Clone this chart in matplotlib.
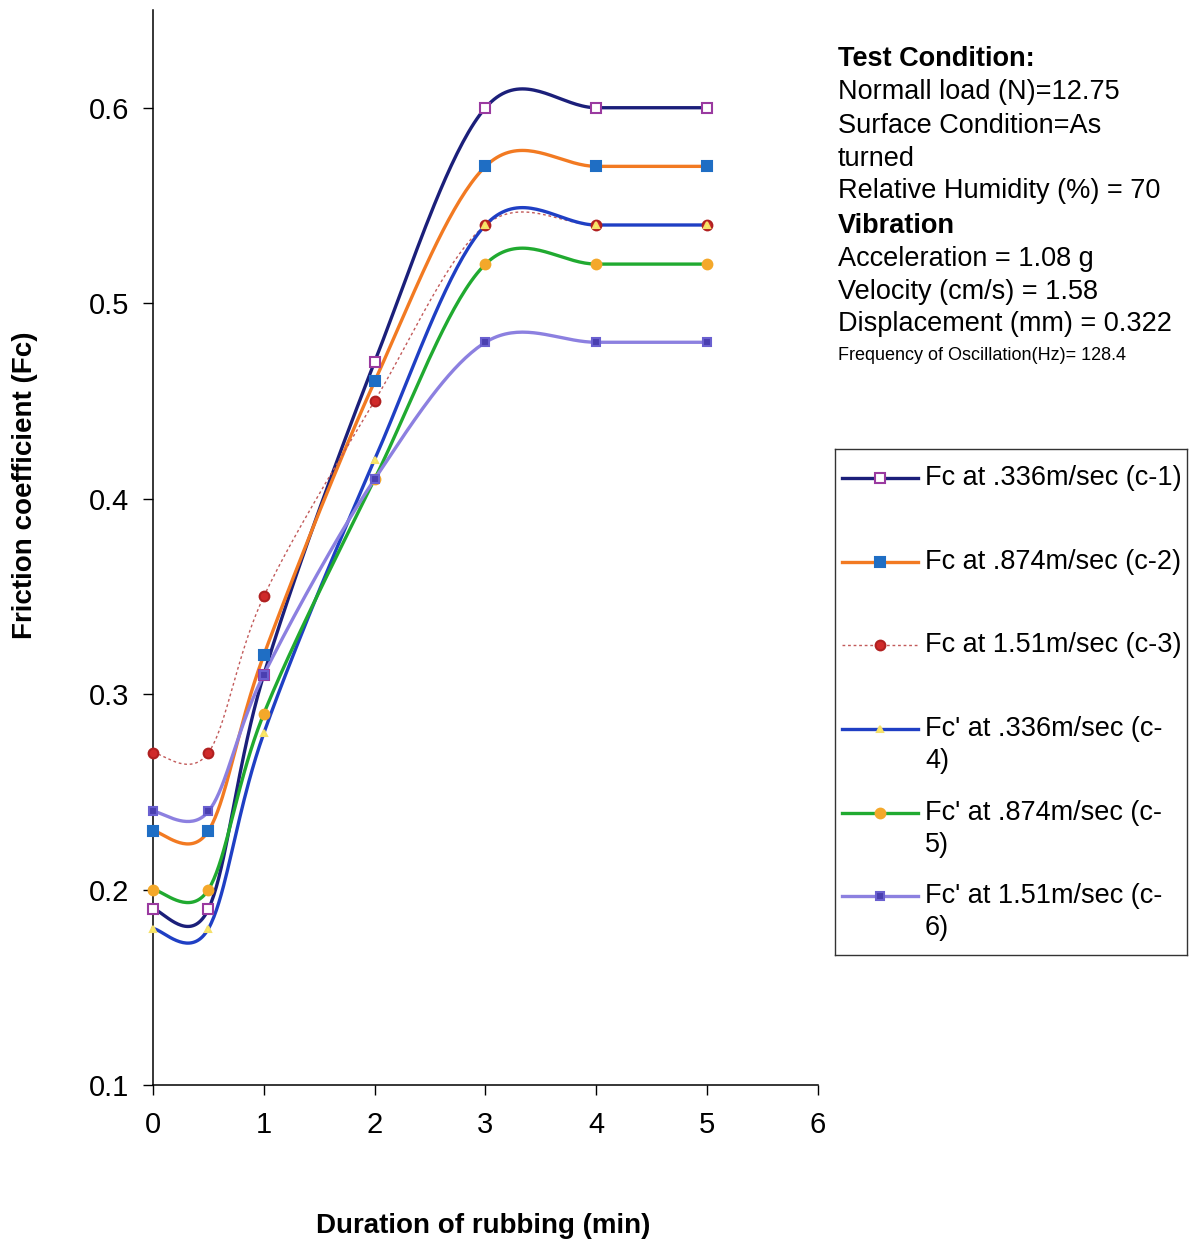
import numpy as np
import matplotlib
matplotlib.use('Agg')
import matplotlib.pyplot as plt

plt.rcParams['font.family'] = ['Liberation Sans', 'DejaVu Sans']

W, H = 1192, 1244

# duration of rubbing (min)
duration = [0, 0.5, 1, 2, 3, 4, 5]

fc_c1 = [0.19, 0.19, 0.31, 0.47, 0.60, 0.60, 0.60]
fc_c2 = [0.23, 0.23, 0.32, 0.46, 0.57, 0.57, 0.57]
fc_c3 = [0.27, 0.27, 0.35, 0.45, 0.54, 0.54, 0.54]
fc_c4 = [0.18, 0.18, 0.28, 0.42, 0.54, 0.54, 0.54]
fc_c5 = [0.20, 0.20, 0.29, 0.41, 0.52, 0.52, 0.52]
fc_c6 = [0.24, 0.24, 0.31, 0.41, 0.48, 0.48, 0.48]

labels = ["Fc at .336m/sec (c-1)",
          "Fc at .874m/sec (c-2)",
          "Fc at 1.51m/sec (c-3)",
          "Fc' at .336m/sec (c-\n4)",
          "Fc' at .874m/sec (c-\n5)",
          "Fc' at 1.51m/sec (c-\n6)"]

conditions = ["Test Condition:",
              "Normall load (N)=12.75",
              "Surface Condition=As",
              "turned",
              "Relative Humidity (%) = 70",
              "Vibration",
              "Acceleration = 1.08 g",
              "Velocity (cm/s) = 1.58",
              "Displacement (mm) = 0.322",
              "Frequency of Oscillation(Hz)= 128.4"]

# line style per series: (line colour, lw, ls, marker, marker face, marker edge, ms)
STYLES = [
    ('#1b1f7a', 2.4, '-', 's', 'white', '#9a3aa0', 6.5),
    ('#f27a22', 2.4, '-', 's', '#1f6ec4', '#1f6ec4', 7),
    ('#c25a5a', 1.0, (0, (2, 2)), 'o', '#d02a2a', '#b02020', 7),
    ('#1f3fc4', 2.4, '-', '^', '#fff25a', '#f5e06a', 4),
    ('#20aa30', 2.4, '-', 'o', '#f4a82a', '#f4a82a', 7),
    ('#8c80e0', 2.4, '-', 's', '#4a3fb0', '#6a60d0', 6),
]


def smooth(x, y, n=40):
    """Excel-style smoothed line: Bezier with Catmull-Rom control points."""
    p = np.column_stack([x, y]).astype(float)
    p_ext = np.vstack([p[0], p, p[-1]])
    out = []
    t = np.linspace(0, 1, n)[:, None]
    for i in range(len(p) - 1):
        p0, p1, p2, p3 = p_ext[i], p_ext[i + 1], p_ext[i + 2], p_ext[i + 3]
        c1 = p1 + (p2 - p0) / 6.0
        c2 = p2 - (p3 - p1) / 6.0
        seg = ((1 - t) ** 3 * p1 + 3 * (1 - t) ** 2 * t * c1
               + 3 * (1 - t) * t ** 2 * c2 + t ** 3 * p2)
        out.append(seg if i == 0 else seg[1:])
    s = np.vstack(out)
    return s[:, 0], s[:, 1]


fig = plt.figure(figsize=(W / 100, H / 100), dpi=100)
ax = fig.add_axes([153 / W, 1 - 1085 / H, (818 - 153) / W, (1085 - 10) / H])

series = [fc_c1, fc_c2, fc_c3, fc_c4, fc_c5, fc_c6]
for vals, st in zip(series, STYLES):
    col, lw, ls, mk, mfc, mec, ms = st
    xs, ys = smooth(duration, vals)
    ax.plot(xs, ys, color=col, lw=lw, ls=ls, zorder=2, clip_on=False)
    ax.plot(duration, vals, ls='none', marker=mk, mfc=mfc, mec=mec,
            mew=1.5, ms=ms, zorder=3, clip_on=False)

ax.set_xlim(0, 6)
ax.set_ylim(0.1, 0.65)
ax.set_xticks(range(0, 7))
ax.set_yticks([0.1, 0.2, 0.3, 0.4, 0.5, 0.6])
ax.set_yticklabels(['0.1', '0.2', '0.3', '0.4', '0.5', '0.6'])
ax.tick_params(direction='out', length=7, width=1, labelsize=21, pad=10)
ax.tick_params(axis='x', pad=12)
for sp in ('top', 'right'):
    ax.spines[sp].set_visible(False)
for sp in ('left', 'bottom'):
    ax.spines[sp].set_linewidth(1.1)

fig.text(25 / W, 1 - 485 / H, 'Friction coefficient (Fc)', rotation=90,
         fontsize=20, fontweight='bold', ha='center', va='center')
fig.text(483 / W, 1 - 1226 / H, 'Duration of rubbing (min)',
         fontsize=20, fontweight='bold', ha='center', va='center')

# test condition block
cond_y = [59, 92, 126, 159, 191, 226, 259, 292, 324, 356]
for txt, yy in zip(conditions, cond_y):
    bold = txt in ('Test Condition:', 'Vibration')
    size = 13 if txt.startswith('Frequency') else 19.5
    fig.text(838 / W, 1 - yy / H, txt, fontsize=size,
             fontweight='bold' if bold else 'normal', ha='left', va='center')

# legend, drawn in its own box axes (pixel coords inside the box)
lx0, ly0, lx1, ly1 = 835, 449, 1187, 955
lax = fig.add_axes([lx0 / W, 1 - ly1 / H, (lx1 - lx0) / W, (ly1 - ly0) / H])
lax.set_xlim(0, lx1 - lx0)
lax.set_ylim(ly1 - ly0, 0)
lax.set_xticks([])
lax.set_yticks([])
for sp in lax.spines.values():
    sp.set_linewidth(1.0)
    sp.set_color('#333333')

entry_y = [29, 113, 196, 280, 364, 447]
for lab, st, yy in zip(labels, STYLES, entry_y):
    col, lw, ls, mk, mfc, mec, ms = st
    lax.plot([7, 83], [yy, yy], color=col, lw=lw, ls=ls)
    lax.plot([45], [yy], ls='none', marker=mk, mfc=mfc, mec=mec,
             mew=1.5, ms=ms)
    for j, part in enumerate(lab.split('\n')):
        lax.text(90, yy + j * 32, part, fontsize=19.5, ha='left',
                 va='center')

fig.savefig('out.png', dpi=100)
